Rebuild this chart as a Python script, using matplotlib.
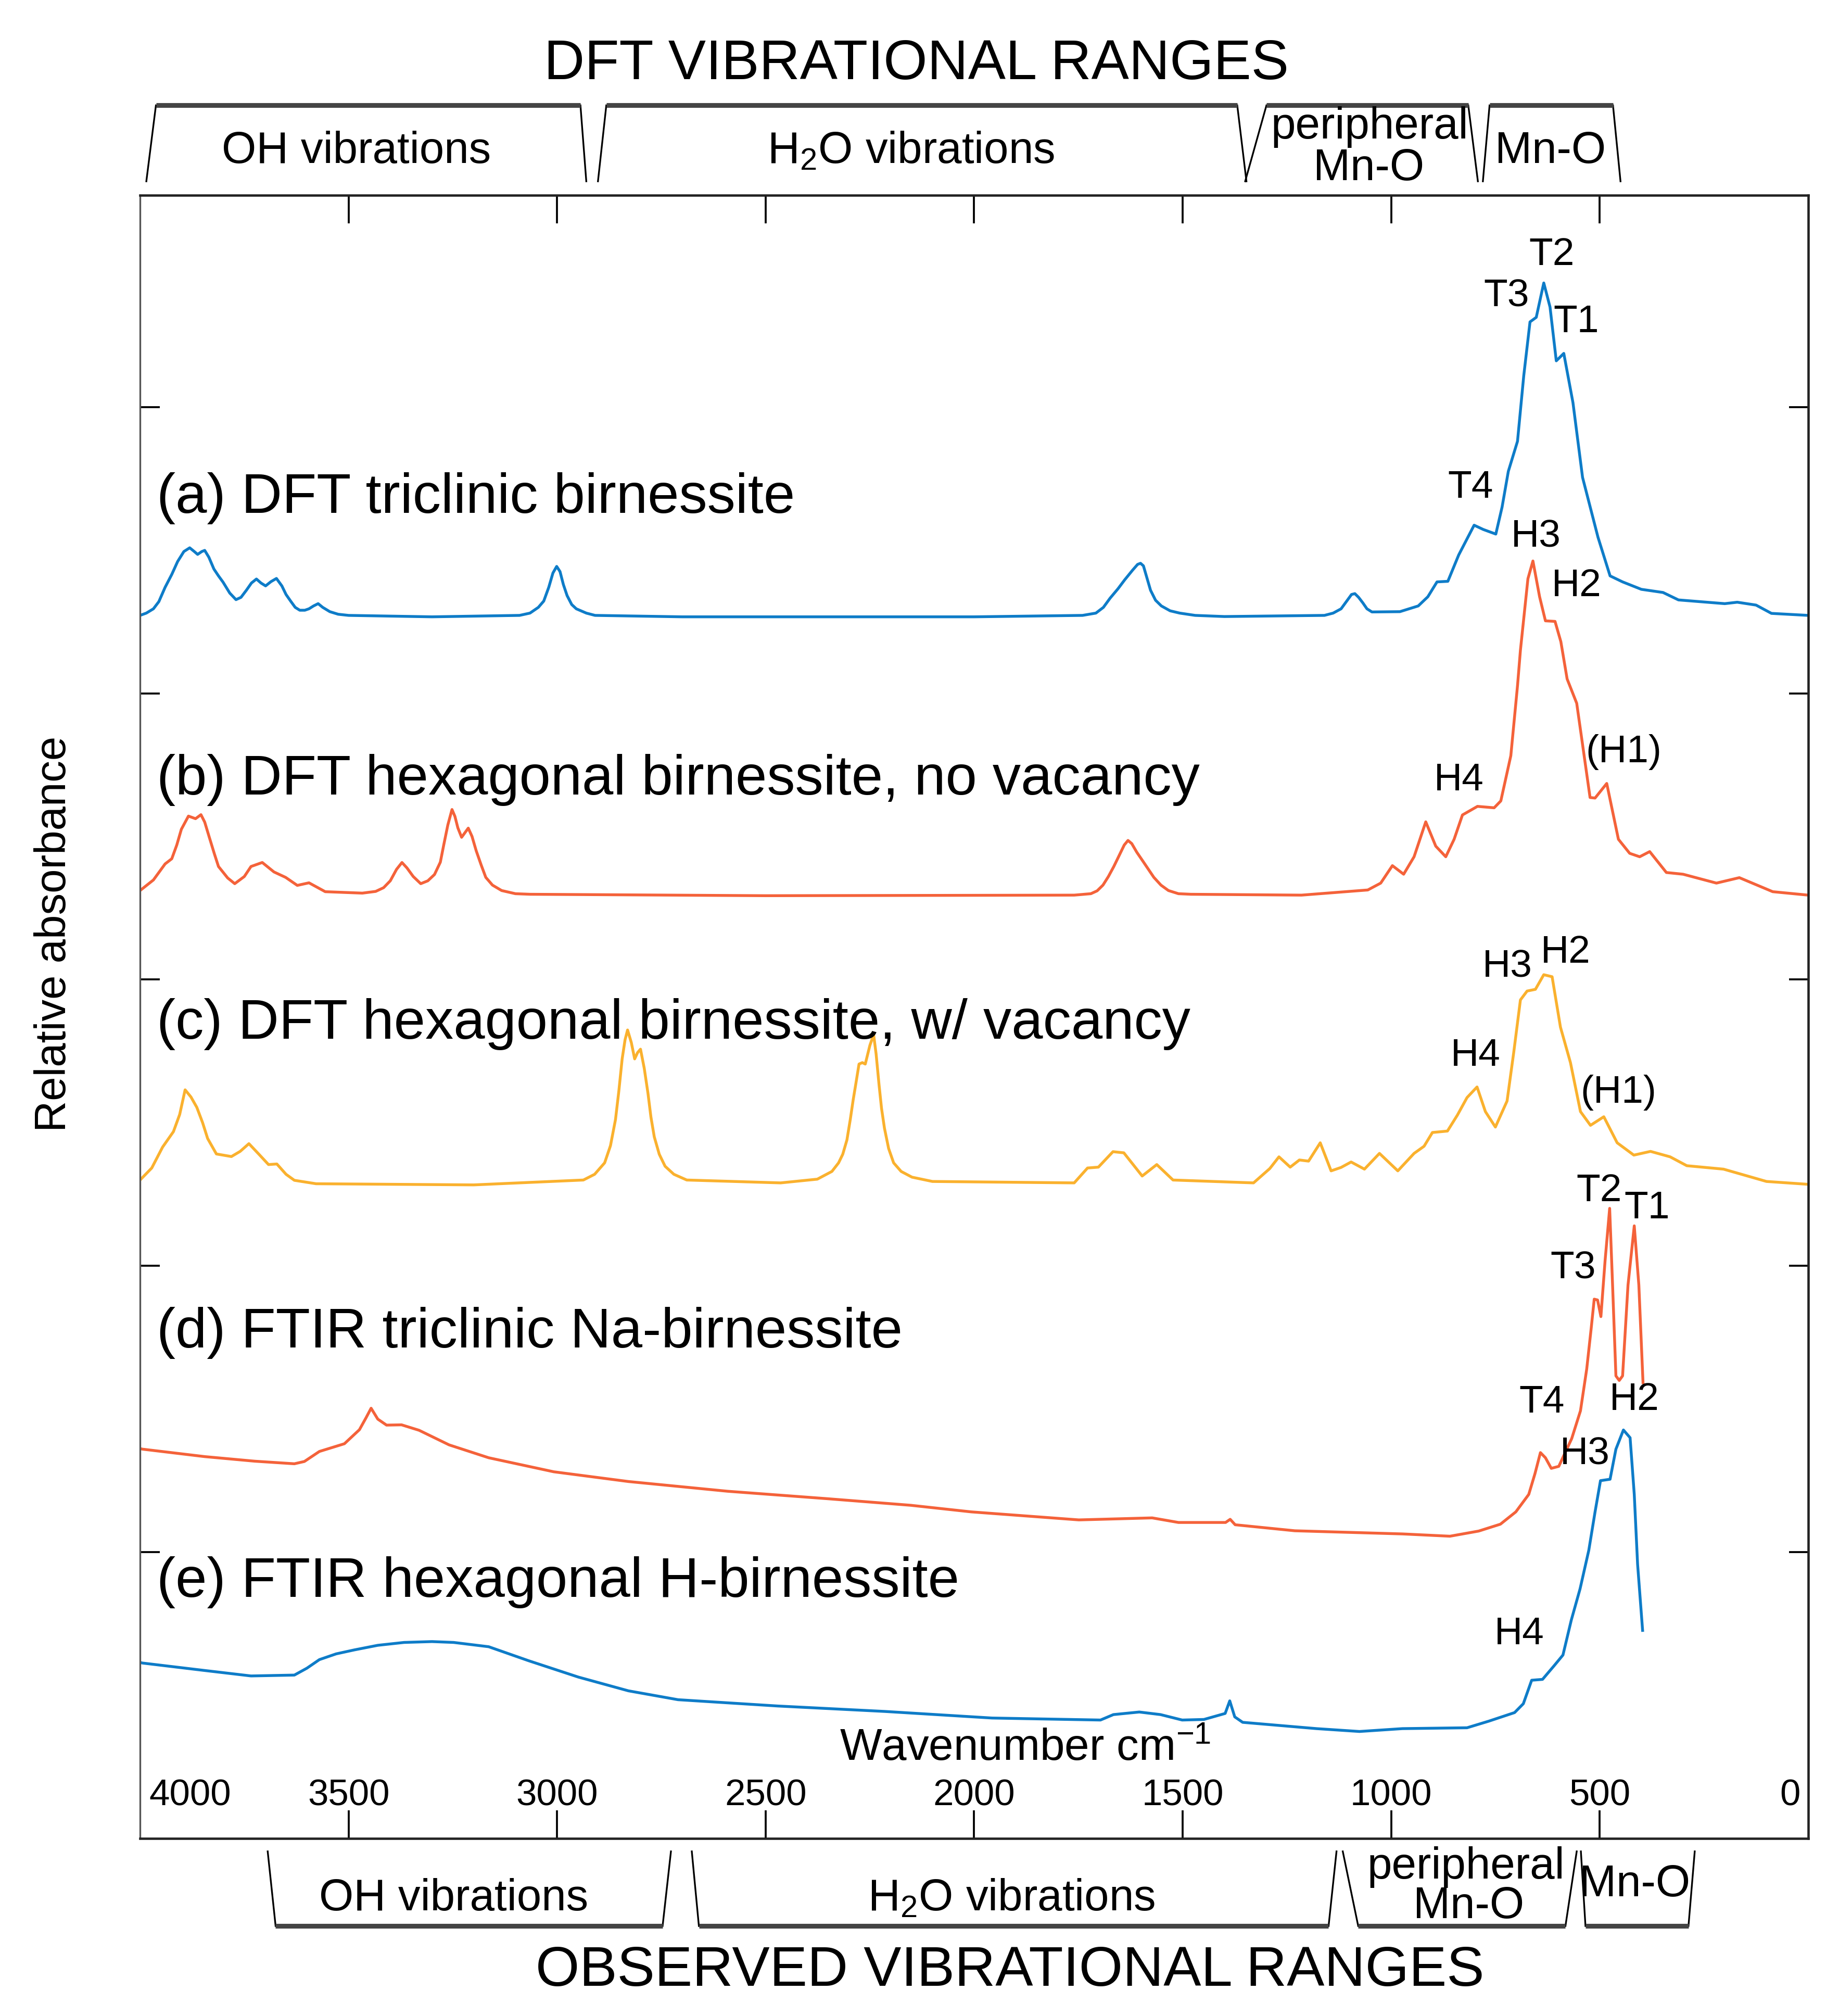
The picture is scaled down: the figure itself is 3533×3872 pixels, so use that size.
import matplotlib.pyplot as plt
from matplotlib.transforms import blended_transform_factory

plt.rcParams['font.family'] = ['Liberation Sans', 'DejaVu Sans']
plt.rcParams['mathtext.fontset'] = 'custom'
plt.rcParams['mathtext.rm'] = 'Liberation Sans'
plt.rcParams['mathtext.it'] = 'Liberation Sans:italic'

# spectra, stacked (offset relative absorbance) vs wavenumber in cm-1
wn_a = [4000, 3985, 3968, 3955, 3940, 3924, 3910, 3895, 3881, 3870, 3862, 3852, 3845, 3835,
        3823, 3812, 3801, 3785, 3770, 3758, 3745, 3733, 3721, 3710, 3699, 3686, 3673, 3660,
        3650, 3639, 3628, 3617, 3605, 3595, 3584, 3573, 3562, 3545, 3525, 3500, 3300, 3090,
        3065, 3045, 3032, 3020, 3010, 3001, 2993, 2985, 2976, 2965, 2954, 2930, 2909, 2700,
        2000, 1740, 1708, 1690, 1674, 1655, 1639, 1620, 1608, 1601, 1594, 1585, 1577, 1565,
        1551, 1530, 1507, 1470, 1400, 1160, 1139, 1120, 1105, 1095, 1087, 1078, 1068, 1058,
        1046, 979, 935, 912, 890, 864, 838, 801, 779, 749, 734, 719, 697, 682, 667, 652, 634,
        619, 604, 586, 564, 541, 504, 475, 445, 400, 348, 311, 200, 170, 125, 88, 0]
abs_a = [4.272, 4.28, 4.295, 4.32, 4.37, 4.415, 4.46, 4.495, 4.508, 4.495, 4.485, 4.495,
         4.499, 4.475, 4.434, 4.41, 4.388, 4.35, 4.327, 4.335, 4.36, 4.385, 4.399, 4.385,
         4.375, 4.39, 4.401, 4.375, 4.345, 4.322, 4.30, 4.290, 4.29, 4.295, 4.305, 4.313,
         4.30, 4.285, 4.276, 4.272, 4.267, 4.272, 4.28, 4.30, 4.322, 4.37, 4.42, 4.443,
         4.425, 4.38, 4.341, 4.31, 4.295, 4.28, 4.272, 4.267, 4.267, 4.272, 4.28, 4.30,
         4.332, 4.365, 4.396, 4.43, 4.45, 4.454, 4.445, 4.40, 4.360, 4.325, 4.305, 4.288,
         4.28, 4.272, 4.268, 4.272, 4.28, 4.295, 4.325, 4.345, 4.348, 4.335, 4.316, 4.295,
         4.284, 4.285, 4.305, 4.337, 4.389, 4.391, 4.483, 4.587, 4.572, 4.556, 4.650, 4.775,
         4.880, 5.109, 5.297, 5.313, 5.433, 5.349, 5.161, 5.187, 5.015, 4.754, 4.545, 4.41,
         4.389, 4.363, 4.352, 4.326, 4.313, 4.318, 4.308, 4.279, 4.272]

wn_b = [4000, 3968, 3940, 3924, 3912, 3901, 3884, 3867, 3854, 3845, 3834, 3822, 3812, 3790,
        3773, 3750, 3734, 3707, 3679, 3651, 3623, 3595, 3556, 3467, 3435, 3416, 3400, 3385,
        3372, 3360, 3345, 3327, 3310, 3294, 3280, 3272, 3262, 3252, 3245, 3238, 3229, 3220,
        3213, 3204, 3194, 3182, 3171, 3155, 3133, 3100, 3065, 2500, 1760, 1720, 1705, 1691,
        1678, 1665, 1650, 1640, 1631, 1622, 1610, 1595, 1582, 1569, 1552, 1534, 1510, 1480,
        1215, 1056, 1025, 997, 970, 945, 917, 893, 869, 849, 829, 793, 753, 737, 713, 697,
        690, 672, 660, 644, 630, 607, 593, 578, 555, 523, 511, 483, 455, 428, 404, 380, 340,
        300, 220, 165, 85, 0]
abs_b = [3.311, 3.348, 3.404, 3.422, 3.47, 3.525, 3.571, 3.562, 3.576, 3.55, 3.497, 3.44,
         3.395, 3.355, 3.335, 3.36, 3.395, 3.409, 3.376, 3.357, 3.329, 3.338, 3.307, 3.302,
         3.308, 3.321, 3.345, 3.385, 3.409, 3.39, 3.36, 3.335, 3.345, 3.367, 3.41, 3.469,
         3.54, 3.594, 3.57, 3.53, 3.497, 3.515, 3.529, 3.50, 3.450, 3.40, 3.357, 3.33, 3.311,
         3.30, 3.298, 3.293, 3.295, 3.30, 3.31, 3.330, 3.36, 3.395, 3.44, 3.47, 3.486, 3.475,
         3.445, 3.413, 3.385, 3.357, 3.33, 3.311, 3.30, 3.298, 3.295, 3.313, 3.337, 3.398,
         3.368, 3.429, 3.551, 3.466, 3.429, 3.490, 3.575, 3.605, 3.600, 3.624, 3.782, 4.026,
         4.15, 4.40, 4.462, 4.337, 4.253, 4.251, 4.180, 4.050, 3.965, 3.636, 3.634, 3.685,
         3.490, 3.441, 3.429, 3.447, 3.374, 3.368, 3.337, 3.356, 3.307, 3.295]

wn_c = [4000, 3972, 3946, 3920, 3905, 3892, 3878, 3864, 3850, 3838, 3817, 3781, 3760, 3739,
        3715, 3692, 3672, 3650, 3630, 3578, 3200, 2937, 2910, 2886, 2872, 2860, 2852, 2844,
        2837, 2831, 2822, 2814, 2807, 2800, 2791, 2782, 2775, 2767, 2755, 2741, 2720, 2689,
        2464, 2376, 2341, 2325, 2315, 2305, 2297, 2290, 2284, 2276, 2268, 2261, 2250, 2241,
        2235, 2228, 2222, 2215, 2205, 2193, 2175, 2149, 2100, 1760, 1728, 1702, 1667, 1641,
        1597, 1562, 1523, 1330, 1291, 1269, 1242, 1220, 1198, 1170, 1144, 1120, 1096, 1064,
        1028, 984, 945, 921, 901, 865, 841, 818, 794, 774, 750, 722, 706, 690, 674, 654, 634,
        614, 594, 570, 546, 522, 490, 458, 418, 378, 331, 291, 203, 100, 0]
abs_c = [2.300, 2.342, 2.415, 2.469, 2.529, 2.615, 2.59, 2.554, 2.50, 2.445, 2.391, 2.382,
         2.40, 2.427, 2.39, 2.354, 2.356, 2.32, 2.299, 2.287, 2.283, 2.300, 2.32, 2.360, 2.42,
         2.511, 2.61, 2.723, 2.79, 2.824, 2.78, 2.723, 2.745, 2.757, 2.69, 2.602, 2.52, 2.451,
         2.39, 2.348, 2.32, 2.300, 2.290, 2.303, 2.330, 2.36, 2.390, 2.44, 2.511, 2.58, 2.633,
         2.705, 2.71, 2.705, 2.77, 2.808, 2.74, 2.633, 2.55, 2.481, 2.41, 2.360, 2.33, 2.310,
         2.295, 2.29, 2.342, 2.345, 2.399, 2.395, 2.314, 2.354, 2.300, 2.29, 2.34, 2.381,
         2.345, 2.37, 2.366, 2.430, 2.332, 2.344, 2.363, 2.338, 2.393, 2.332, 2.393, 2.418,
         2.466, 2.471, 2.527, 2.588, 2.625, 2.539, 2.485, 2.576, 2.746, 2.929, 2.960, 2.966,
         3.017, 3.010, 2.834, 2.710, 2.539, 2.491, 2.521, 2.430, 2.387, 2.400, 2.381, 2.350,
         2.338, 2.295, 2.285]

wn_d = [4000, 3994, 3845, 3725, 3630, 3606, 3570, 3510, 3474, 3458, 3446, 3430, 3409, 3373,
        3331, 3259, 3164, 3008, 2829, 2591, 2352, 2152, 2007, 1749, 1573, 1510, 1397, 1386,
        1374, 1231, 973, 859, 790, 738, 701, 670, 655, 642, 630, 616, 598, 567, 546, 531,
        520, 513, 505, 497, 487, 476, 469, 461, 453, 445, 432, 417, 406, 396]
abs_d = [1.362, 1.360, 1.334, 1.318, 1.309, 1.317, 1.352, 1.379, 1.428, 1.47, 1.503, 1.465,
         1.444, 1.445, 1.426, 1.375, 1.330, 1.281, 1.247, 1.213, 1.187, 1.164, 1.141, 1.113,
         1.120, 1.104, 1.104, 1.115, 1.096, 1.075, 1.064, 1.056, 1.074, 1.098, 1.141, 1.202,
         1.275, 1.348, 1.33, 1.293, 1.30, 1.397, 1.494, 1.640, 1.786, 1.884, 1.881, 1.823,
         2.018, 2.201, 1.933, 1.616, 1.60, 1.616, 1.933, 2.140, 1.933, 1.592]

wn_e = [4000, 3994, 3845, 3734, 3630, 3600, 3570, 3530, 3486, 3430, 3367, 3300, 3248, 3164,
        3068, 2949, 2829, 2710, 2471, 2214, 1957, 1697, 1666, 1604, 1553, 1501, 1449, 1398,
        1387, 1375, 1356, 1179, 1076, 973, 818, 766, 704, 683, 663, 637, 609, 588, 568, 547,
        526, 511, 498, 475, 461, 443, 427, 417, 409, 397]
abs_e = [0.615, 0.613, 0.587, 0.568, 0.571, 0.595, 0.625, 0.645, 0.659, 0.675, 0.685, 0.688,
         0.685, 0.670, 0.621, 0.564, 0.516, 0.485, 0.463, 0.444, 0.421, 0.414, 0.433, 0.442,
         0.433, 0.414, 0.416, 0.437, 0.481, 0.425, 0.406, 0.384, 0.374, 0.384, 0.387, 0.410,
         0.440, 0.471, 0.553, 0.556, 0.604, 0.641, 0.763, 0.872, 1.007, 1.141, 1.250, 1.255,
         1.360, 1.427, 1.40, 1.202, 0.958, 0.727]

series_labels = ['(a) DFT triclinic birnessite',
                 '(b) DFT hexagonal birnessite, no vacancy',
                 '(c) DFT hexagonal birnessite, w/ vacancy',
                 '(d) FTIR triclinic Na-birnessite',
                 '(e) FTIR hexagonal H-birnessite']
series_colors = ['#0E7CC8', '#F4623A', '#FAB12E', '#F4623A', '#0E7CC8']
label_baseline = [4.630, 3.646, 2.793, 1.715, 0.844]

# peak assignments (name, wavenumber, height of label centre)
peak_names = ['T2', 'T3', 'T1', 'T4', 'H3', 'H2', '(H1)', 'H4',
              'H3', 'H2', 'H4', '(H1)', 'T2', 'T1', 'T3', 'T4', 'H2', 'H3', 'H4']
peak_wn = [615, 723, 556, 809, 653, 556, 443, 837,
           722, 582, 797, 455, 502, 386, 564, 639, 417, 536, 693]
peak_y = [5.532, 5.386, 5.297, 4.718, 4.546, 4.374, 3.794, 3.697,
          3.045, 3.094, 2.735, 2.606, 2.262, 2.201, 1.991, 1.524, 1.533, 1.342, 0.714]

xtick_vals = [4000, 3500, 3000, 2500, 2000, 1500, 1000, 500, 0]

# vibrational range brackets: outer-left, inner-left, inner-right, outer-right (cm-1)
dft_names = ['OH vibrations', 'H$_2$O vibrations', 'peripheral', 'Mn-O']
dft_edges = [(3985, 3962, 2944, 2930), (2902, 2882, 1369, 1347),
             (1350, 1299, 815, 792), (780, 764, 468, 450)]
obs_names = ['OH vibrations', 'H$_2$O vibrations', 'peripheral', 'Mn-O']
obs_edges = [(3694, 3675, 2747, 2727), (2677, 2660, 1150, 1131),
             (1116, 1079, 582, 555), (545, 534, 287, 272)]

fig = plt.figure(figsize=(3533 / 300, 3872 / 300), dpi=300)
ax = fig.add_axes([0.07617, 0.08801, 0.90706, 0.81505])

spectra = [(wn_a, abs_a), (wn_b, abs_b), (wn_c, abs_c), (wn_d, abs_d), (wn_e, abs_e)]
for (wn, ab), col in zip(spectra, series_colors):
    ax.plot(wn, ab, color=col, lw=1.3, solid_joinstyle='round')

for lab, yb in zip(series_labels, label_baseline):
    ax.text(3960, yb, lab, fontsize=26, ha='left', va='baseline')

for name, w, y in zip(peak_names, peak_wn, peak_y):
    ax.text(w, y, name, fontsize=18, ha='center', va='center')

ax.set_xlim(4000, 0)
ax.set_ylim(0, 5.7387)
ax.set_xticks(xtick_vals[1:-1])
ax.set_yticks([1, 2, 3, 4, 5])
ax.tick_params(axis='x', direction='in', length=13, width=0.9, top=True, bottom=True,
               labelbottom=False)
ax.tick_params(axis='y', direction='in', length=9, width=0.9, left=True, right=True,
               labelleft=False)
for s in ax.spines.values():
    s.set_linewidth(1.1)
    s.set_color('#222222')
ax.spines['left'].set_color('#555555')
ax.spines['left'].set_linewidth(0.8)

# tick labels drawn inside the frame
for v in xtick_vals:
    xpos = 3880 if v == 4000 else (43 if v == 0 else v)
    ax.text(xpos, 0.148, str(v), fontsize=17, ha='center', va='center')
ax.text(1877, 0.314, 'Wavenumber cm$^{-1}$', fontsize=20.5, ha='center', va='center')

fig.text(0.0294, 0.5367, 'Relative absorbance', rotation=90, fontsize=20,
         ha='center', va='center')

trans = blended_transform_factory(ax.transData, ax.transAxes)


def draw_bracket(edges, y_open, y_closed):
    ol, il, ir, orr = edges
    ax.plot([ol, il], [y_open, y_closed], color='black', lw=0.8, transform=trans,
            clip_on=False)
    ax.plot([orr, ir], [y_open, y_closed], color='black', lw=0.8, transform=trans,
            clip_on=False)
    ax.plot([il, ir], [y_closed, y_closed], color='#444444', lw=2.2, transform=trans,
            clip_on=False, solid_capstyle='butt')


for e in dft_edges:
    draw_bracket(e, 1.0086, 1.0548)
for e in obs_edges:
    draw_bracket(e, -0.0078, -0.0532)

kw = dict(transform=trans, fontsize=20.5, ha='center', va='center', clip_on=False)
ax.text(2139, 1.0798, 'DFT VIBRATIONAL RANGES', **dict(kw, fontsize=26))
ax.text(3481, 1.0266, dft_names[0], **kw)
ax.text(2151, 1.0266, dft_names[1], **kw)
ax.text(1051, 1.0415, dft_names[2], **kw)
ax.text(1054, 1.0164, 'Mn-O', **kw)
ax.text(618, 1.0266, dft_names[3], **kw)

ax.text(3248, -0.0368, obs_names[0], **kw)
ax.text(1911, -0.0368, obs_names[1], **kw)
ax.text(820, -0.0172, obs_names[2], **kw)
ax.text(814, -0.0415, 'Mn-O', **kw)
ax.text(416, -0.0282, obs_names[3], **kw)
ax.text(1914, -0.0806, 'OBSERVED VIBRATIONAL RANGES', **dict(kw, fontsize=26))

fig.savefig('out.png', dpi=300)
